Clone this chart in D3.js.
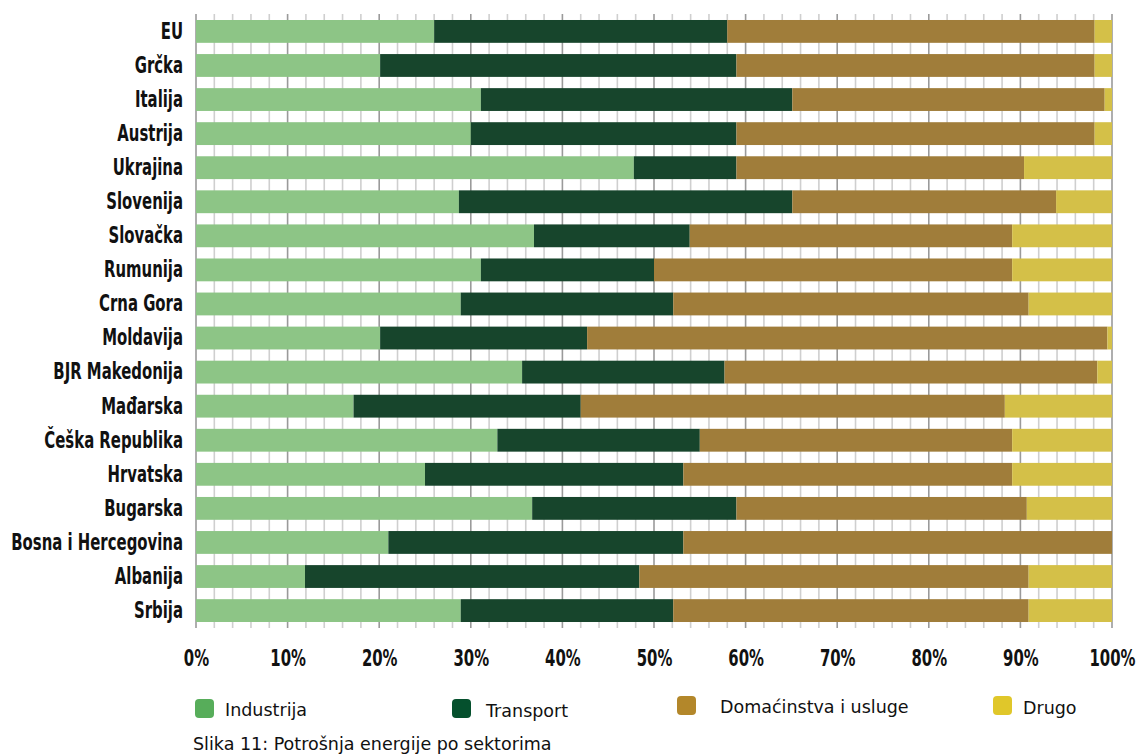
<!DOCTYPE html>
<html>
<head>
<meta charset="utf-8">
<script src="https://cdn.jsdelivr.net/npm/d3@7"></script>
<style>
  html, body { margin: 0; padding: 0; background: #fff; }
  svg { display: block; }
</style>
</head>
<body>
<svg id="chart" width="1139" height="754"></svg>
<script>
// ---- data ----
const countries = ["EU","Grčka","Italija","Austrija","Ukrajina","Slovenija","Slovačka","Rumunija","Crna Gora","Moldavija","BJR Makedonija","Mađarska","Češka Republika","Hrvatska","Bugarska","Bosna i Hercegovina","Albanija","Srbija"];
const seriesNames = ["Industrija","Transport","Domaćinstva i usluge","Drugo"];
const industrija  = [26.0, 20.1, 31.1, 30.0, 47.8, 28.7, 36.9, 31.1, 28.9, 20.1, 35.6, 17.2, 32.9, 25.0, 36.7, 21.0, 11.9, 28.9];
const transport   = [32.0, 38.9, 34.0, 29.0, 11.2, 36.4, 17.0, 18.9, 23.2, 22.6, 22.1, 24.8, 22.1, 28.2, 22.3, 32.2, 36.5, 23.2];
const domacinstva = [40.1, 39.1, 34.1, 39.1, 31.4, 28.8, 35.2, 39.1, 38.8, 56.8, 40.7, 46.3, 34.1, 35.9, 31.7, 46.8, 42.5, 38.8];
const drugo       = [ 1.9,  1.9,  0.8,  1.9,  9.6,  6.1, 10.9, 10.9,  9.1,  0.5,  1.6, 11.7, 10.9, 10.9,  9.3,  0.0,  9.1,  9.1];
const tickValues = [0,10,20,30,40,50,60,70,80,90,100];
const tickLabels = ["0%","10%","20%","30%","40%","50%","60%","70%","80%","90%","100%"];
const caption = "Slika 11: Potrošnja energije po sektorima";

// ---- styles ----
const barColors = ["#8dc586","#17452c","#a07d3a","#d4c048"];
const swatchColors = ["#57ad5a","#05502d","#b3872a","#e0c72a"];
const boldFont = "'DejaVu Sans Condensed', 'DejaVu Sans', sans-serif";
const regFont = "'DejaVu Sans', sans-serif";
const squeeze = 0.72;
const boldSize = 23;

const svg = d3.select("#chart");
const x = d3.scaleLinear().domain([0,100]).range([196,1112]);
const y = d3.scaleBand().domain(countries).range([14,628]).paddingInner(0.33).paddingOuter(0.176);

const rows = countries.map((c,i) => ({country:c, Industrija:industrija[i], Transport:transport[i], "Domaćinstva i usluge":domacinstva[i], Drugo:drugo[i]}));
const stacked = d3.stack().keys(seriesNames)(rows);

// grid
const grid = svg.append("g");
const gridVals = d3.range(0,101,2);
grid.selectAll("line").data(gridVals).join("line")
  .attr("x1", d => x(d)).attr("x2", d => x(d))
  .attr("y1", 14).attr("y2", 628)
  .attr("stroke", d => d % 10 === 0 ? "#9a9a9a" : "#cfcfcf")
  .attr("stroke-width", 1.6);

// bars
svg.append("g").selectAll("g").data(stacked).join("g")
  .attr("fill", (d,i) => barColors[i])
  .selectAll("rect").data(d => d).join("rect")
  .attr("x", d => x(d[0]))
  .attr("width", d => Math.max(0, x(d[1]) - x(d[0])))
  .attr("y", d => y(d.data.country))
  .attr("height", y.bandwidth());

// y labels
const yAxis = d3.axisLeft(y).tickSize(0).tickPadding(13);
const yg = svg.append("g").attr("transform", "translate(196,0)").call(yAxis);
yg.select(".domain").remove();
yg.selectAll("text")
  .attr("x", -13 / squeeze)
  .attr("transform", `scale(${squeeze},1)`)
  .attr("font-family", boldFont).attr("font-weight", "bold")
  .attr("font-size", boldSize).attr("fill", "#111");

// x labels
const xAxis = d3.axisBottom(x).tickValues(tickValues).tickFormat((d,i) => tickLabels[i]).tickSize(0).tickPadding(0);
const xg = svg.append("g").attr("transform", "translate(0,650)").call(xAxis);
xg.select(".domain").remove();
xg.selectAll("text")
  .attr("transform", `scale(${squeeze},1)`)
  .attr("font-family", boldFont).attr("font-weight", "bold")
  .attr("font-size", boldSize).attr("fill", "#111").attr("dy", "0.71em");

// legend
const legendPos = [
  {sx:195, sy:699, tx:225, ty:716},
  {sx:452, sy:699, tx:486, ty:717},
  {sx:677, sy:696, tx:720, ty:713},
  {sx:993, sy:696, tx:1023, ty:714}
];
const lg = svg.append("g");
seriesNames.forEach((name,i) => {
  const p = legendPos[i];
  lg.append("rect").attr("x", p.sx).attr("y", p.sy).attr("width", 19).attr("height", 19)
    .attr("rx", 4).attr("fill", swatchColors[i]);
  lg.append("text").attr("x", p.tx).attr("y", p.ty).text(name)
    .attr("font-family", regFont).attr("font-size", 17.5).attr("fill", "#111");
});

svg.append("text").attr("x", 193).attr("y", 750).text(caption)
  .attr("font-family", regFont).attr("font-size", 17.5).attr("fill", "#111");
</script>
</body>
</html>
